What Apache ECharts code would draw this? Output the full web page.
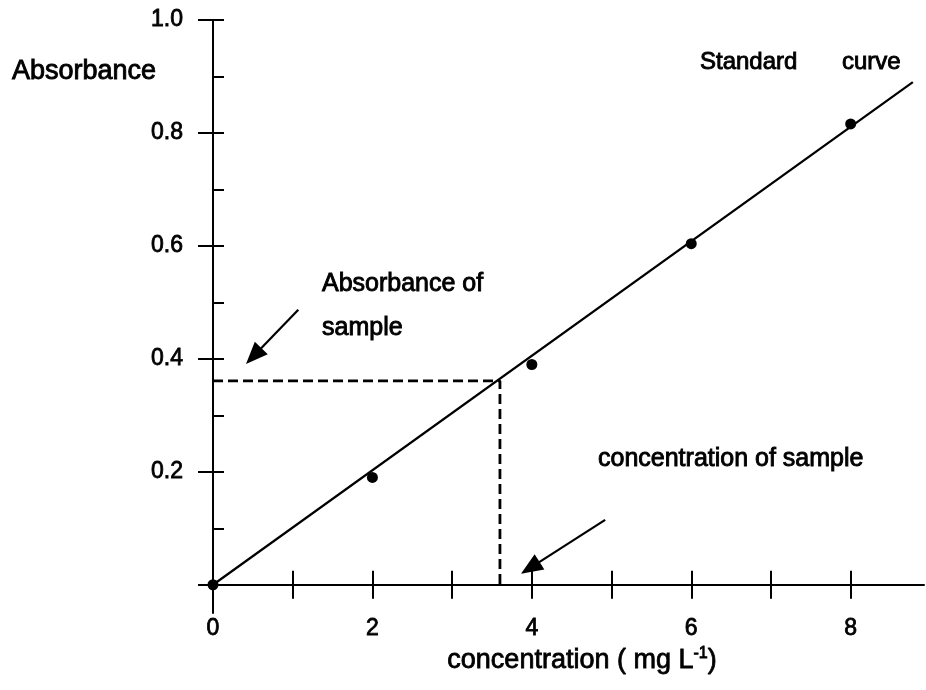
<!DOCTYPE html>
<html>
<head>
<meta charset="utf-8">
<title>Standard curve</title>
<script src="https://cdn.jsdelivr.net/npm/echarts@6/dist/echarts.min.js"></script>
<style>
  html, body { margin: 0; padding: 0; background: #fff; }
  #main { width: 926px; height: 690px; }
</style>
</head>
<body>
<div id="main"></div>
<script>
// standard points (concentration mg/L, absorbance)
const concentration = [0, 2, 4, 6, 8];
const absorbance = [0, 0.19, 0.39, 0.604, 0.816];

// drawn standard curve, end points
const curveX = [0, 8.78];
const curveY = [0, 0.89];

// reading of the sample
const sampleAbs = 0.361;
const sampleConc = 3.6;

// annotation arrows: [tailX, tailY, headX, headY]
const arrowAbs = [1.07, 0.487, 0.51, 0.405];
const arrowConc = [4.92, 0.115, 3.98, 0.03];

// ticks and labels
const xLabelValues = [0, 2, 4, 6, 8];
const xTickValues = [1, 2, 3, 4, 5, 6, 7, 8];
const yLabelValues = [0.2, 0.4, 0.6, 0.8, 1.0];
const yMajorTicks = [0, 0.2, 0.4, 0.6, 0.8, 1.0];
const yMinorTicks = [0.1, 0.2, 0.3, 0.4, 0.5, 0.6, 0.7, 0.8, 0.9, 1.0];

const FONT = "'Liberation Sans', Arial, sans-serif";
const INK = '#000';

const chart = echarts.init(document.getElementById('main'));

function note(text, x, y, size) {
  return {
    type: 'text',
    x: x,
    y: y,
    silent: true,
    style: {
      text: text,
      font: size + 'px ' + FONT,
      fill: INK,
      stroke: INK,
      lineWidth: 0.9,
      verticalAlign: 'middle'
    }
  };
}

const axisLineStyle = { color: INK, width: 2 };
const labelInk = { color: INK, fontFamily: FONT, textBorderColor: INK, textBorderWidth: 0.8 };

const option = {
  animation: false,
  backgroundColor: '#fff',
  grid: { left: 213, right: 2, top: 20, bottom: 77, outerBoundsMode: 'none', containLabel: false },
  xAxis: [
    {
      type: 'value',
      min: 0,
      max: 8.92,
      position: 'bottom',
      axisLine: { show: true, onZero: true, onZeroAxisIndex: 0, lineStyle: axisLineStyle },
      axisTick: { show: true, inside: true, length: 14, customValues: xTickValues, lineStyle: axisLineStyle },
      axisLabel: { show: false },
      splitLine: { show: false }
    },
    {
      type: 'value',
      min: 0,
      max: 8.92,
      position: 'bottom',
      axisLine: { show: false, onZero: true, onZeroAxisIndex: 0 },
      axisTick: { show: true, inside: false, length: 14, customValues: xTickValues, lineStyle: axisLineStyle },
      axisLabel: Object.assign({
        show: true,
        customValues: xLabelValues,
        margin: 4,
        fontSize: 23
      }, labelInk),
      splitLine: { show: false },
      name: 'concentration ( mg L{sup|-1})',
      nameLocation: 'middle',
      nameGap: 33,
      nameTextStyle: Object.assign({
        fontSize: 27,
        padding: [0, 0, 0, 27],
        rich: {
          sup: Object.assign({ fontSize: 16, verticalAlign: 'top', padding: [0, 0, 13, 0] }, labelInk)
        }
      }, labelInk)
    }
  ],
  yAxis: [
    {
      type: 'value',
      min: -0.05,
      max: 1.0,
      position: 'left',
      axisLine: { show: true, onZero: false, lineStyle: axisLineStyle },
      axisTick: { show: true, inside: true, length: 11, customValues: yMinorTicks, lineStyle: axisLineStyle },
      axisLabel: { show: false },
      splitLine: { show: false }
    },
    {
      type: 'value',
      min: -0.05,
      max: 1.0,
      position: 'left',
      axisLine: { show: false, onZero: false },
      axisTick: { show: true, inside: false, length: 15, customValues: yMajorTicks, lineStyle: axisLineStyle },
      axisLabel: Object.assign({
        show: true,
        customValues: yLabelValues,
        margin: 30,
        fontSize: 23,
        formatter: v => v.toFixed(1)
      }, labelInk),
      splitLine: { show: false }
    }
  ],
  graphic: [
    note('Absorbance', 12, 72, 27),
    note('Standard', 700, 62, 24),
    note('curve', 842, 62, 24),
    note('Absorbance of', 322, 284, 25),
    note('sample', 322, 328, 25),
    note('concentration of sample', 598, 459, 25)
  ],
  series: [
    {
      name: 'Standard curve',
      type: 'line',
      xAxisIndex: 0,
      yAxisIndex: 0,
      data: curveX.map((x, i) => [x, curveY[i]]),
      showSymbol: false,
      lineStyle: { color: INK, width: 2.2 },
      silent: true
    },
    {
      name: 'Sample reading',
      type: 'line',
      xAxisIndex: 0,
      yAxisIndex: 0,
      data: [[0, sampleAbs], [sampleConc, sampleAbs], [sampleConc, 0]],
      showSymbol: false,
      lineStyle: { color: INK, width: 2.8, type: [10, 5] },
      silent: true
    },
    {
      name: 'Standards',
      type: 'scatter',
      xAxisIndex: 0,
      yAxisIndex: 0,
      data: concentration.map((x, i) => [x, absorbance[i]]),
      symbol: 'circle',
      symbolSize: 11,
      itemStyle: { color: INK, opacity: 1 },
      silent: true
    },
    {
      name: 'Arrows',
      type: 'line',
      xAxisIndex: 0,
      yAxisIndex: 0,
      data: [],
      markLine: {
        silent: true,
        symbol: ['none', 'triangle'],
        symbolSize: [18, 22],
        label: { show: false },
        lineStyle: { color: INK, width: 2.2, type: 'solid', opacity: 1 },
        data: [arrowAbs, arrowConc].map(a => [
          { coord: [a[0], a[1]] },
          { coord: [a[2], a[3]] }
        ])
      }
    }
  ]
};

chart.setOption(option);
</script>
</body>
</html>
